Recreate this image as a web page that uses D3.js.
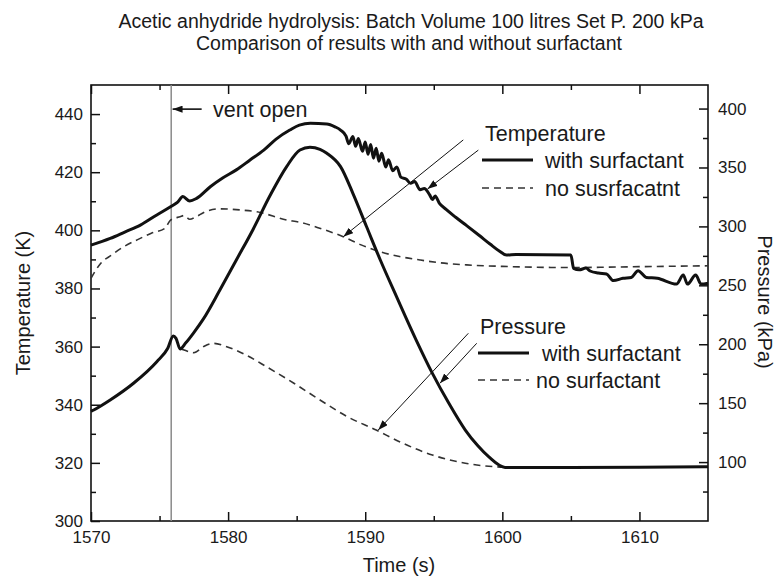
<!DOCTYPE html>
<html>
<head>
<meta charset="utf-8">
<script src="https://cdn.jsdelivr.net/npm/d3@7"></script>
<style>
  body { margin: 0; background: #fff; }
  text { font-family: "Liberation Sans", Arial, sans-serif; fill: #1a1a1a; }
</style>
</head>
<body>
<div id="viz"></div>
<script>
var width = 784,
    height = 586;

// [time (s), value] pairs
var tempWith = [
  [1570, 394.9], [1571.4, 397.2], [1572.5, 399.5], [1573.6, 401.8], [1574.8, 405.3],
  [1575.8, 408.1], [1576.3, 409.6], [1576.7, 411.6], [1577.2, 410.1], [1577.7, 411],
  [1578.7, 415], [1579.6, 418], [1580.6, 420.8], [1581.6, 424.2], [1582.6, 427.6],
  [1583.5, 431.4], [1584.5, 434.5], [1585.2, 436.2], [1586, 436.8],
  [1587.2, 436.6], [1587.8, 435.6], [1588.2, 434.5],
  [1588.6, 432.4], [1588.8, 429.8], [1589.1, 432.3], [1589.3, 428.9], [1589.5, 431.6],
  [1589.8, 427.2], [1590, 430.4], [1590.2, 426.2], [1590.4, 429.5], [1590.6, 424.8],
  [1590.8, 428.2], [1591, 423.8], [1591.2, 426.5], [1591.5, 421.8], [1591.7, 424.3],
  [1592, 420.5], [1592.3, 421.8], [1592.6, 418.3], [1593, 417.6], [1593.3, 416.2],
  [1593.6, 416.8], [1594, 414], [1594.3, 414.4], [1594.7, 412.2], [1594.9, 410.6],
  [1595.1, 411.8], [1595.4, 409.4], [1595.9, 407.2], [1596.6, 404.5], [1597.4, 401.6],
  [1598.3, 398.3], [1599.1, 395.3], [1599.8, 392.8], [1600.3, 391.5], [1601, 391.7],
  [1605, 391.5], [1605.2, 386.9], [1605.6, 386.4], [1606.1, 387], [1606.4, 386],
  [1607, 385.3], [1607.6, 385], [1608.1, 382.7], [1608.8, 383.5], [1609.4, 383.8],
  [1609.9, 386.1], [1610.5, 383.8], [1611.3, 383.5], [1612.7, 381.5], [1613.2, 384.6],
  [1613.5, 381.5], [1614.1, 384.6], [1614.5, 381.5], [1615, 381.8]
];

var tempNo = [
  [1570, 383.5], [1570.7, 388.6], [1571.5, 391.5], [1572.4, 394.4], [1573.4, 396.8],
  [1574.4, 399], [1575.4, 400.7], [1575.8, 403.5], [1576.5, 404.7], [1576.8, 405.1],
  [1577.2, 403.8], [1577.6, 404.5], [1578.3, 406.3], [1579.4, 407.4], [1580.9, 407],
  [1582.1, 406.4], [1584.3, 403.5], [1585.2, 402.8], [1586.5, 401], [1588.4, 397.8],
  [1589.7, 395], [1591.1, 392.6], [1592.5, 391], [1594, 389.8], [1595.5, 388.8],
  [1597.4, 388.1], [1600, 387.6], [1605, 387.2], [1610, 387.5], [1615, 387.8]
];

var pressWith = [
  [1570, 143], [1570.2, 144.2], [1571.4, 152.7], [1573.1, 166.9], [1574.8, 185.2],
  [1575.6, 196.6], [1576, 207], [1576.2, 205], [1576.5, 196], [1576.9, 201],
  [1577.46, 209.3], [1578.2, 221.5], [1579.4, 246], [1580.6, 271.5], [1581.8, 297],
  [1583.05, 326], [1584.27, 350.8], [1585.24, 364.8], [1585.97, 367.2], [1586.7, 365.4],
  [1587.2, 362], [1588.2, 350.7], [1589.1, 328.1], [1590.1, 299.7], [1591.1, 271.5],
  [1592.3, 240], [1593.7, 204], [1594.9, 175.3], [1596.1, 149.9],
  [1597.3, 127.2], [1598.2, 114], [1599, 104.6], [1600.2, 95.5], [1605, 95.5],
  [1610, 95.7], [1615, 96]
];

var pressNo = [
  [1576.6, 196], [1576.8, 195.1], [1577.2, 193.5], [1577.5, 192.8], [1578.2, 198],
  [1578.9, 200.8], [1579.9, 197.9], [1581.3, 190.9], [1582.8, 180.9], [1584.8, 166.9],
  [1586.7, 152.7], [1588.7, 138.5], [1590.8, 127.2], [1592.5, 117.3], [1594.9, 106],
  [1597.3, 99], [1599.5, 96], [1600.5, 95.5]
];

var xTicks = [1570, 1580, 1590, 1600, 1610],
    xMinor = [1575, 1585, 1595, 1605],
    tTicks = [300, 320, 340, 360, 380, 400, 420, 440],
    tMinor = [310, 330, 350, 370, 390, 410, 430],
    pTicks = [100, 150, 200, 250, 300, 350, 400],
    pMinor = [75, 125, 175, 225, 275, 325, 375];

var ventTime = 1575.85;

var plot = {left: 91, right: 708, top: 85, bottom: 521};

var x = d3.scaleLinear().domain([1570, 1615]).range([plot.left, plot.right]);
var yT = d3.scaleLinear().domain([300, 450]).range([plot.bottom, plot.top]);
var yP = d3.scaleLinear().domain([50, 420]).range([plot.bottom, plot.top]);

var svg = d3.select("#viz").append("svg")
    .attr("width", width)
    .attr("height", height);

var defs = svg.append("defs");
defs.append("marker")
    .attr("id", "head")
    .attr("markerUnits", "userSpaceOnUse")
    .attr("viewBox", "0 0 10 7")
    .attr("refX", 10).attr("refY", 3.5)
    .attr("markerWidth", 10).attr("markerHeight", 7)
    .attr("orient", "auto")
    .append("path")
    .attr("d", "M0,0 L10,3.5 L0,7 Z")
    .attr("fill", "#111");

// titles
svg.append("text").attr("x", 411).attr("y", 28)
    .attr("text-anchor", "middle").style("font-size", "19.5px")
    .text("Acetic anhydride hydrolysis: Batch Volume 100 litres Set P. 200 kPa");
svg.append("text").attr("x", 409).attr("y", 50)
    .attr("text-anchor", "middle").style("font-size", "19.5px")
    .text("Comparison of results with and without surfactant");

// axes (ticks pointing inward)
function styleAxis(g) {
  g.select(".domain").remove();
  g.selectAll("line").attr("stroke", "#111").attr("stroke-width", 1.5);
  g.selectAll("text").style("font-size", "17px").attr("fill", "#1a1a1a");
}

svg.append("g").attr("transform", "translate(0," + plot.bottom + ")")
    .call(d3.axisBottom(x).tickValues(xTicks).tickSize(-9).tickPadding(10).tickFormat(d3.format("d")))
    .call(styleAxis);
svg.append("g").attr("transform", "translate(0," + plot.bottom + ")")
    .call(d3.axisBottom(x).tickValues(xMinor).tickSize(-5).tickFormat(""))
    .call(styleAxis);
svg.append("g").attr("transform", "translate(0," + plot.top + ")")
    .call(d3.axisTop(x).tickValues(xTicks).tickSize(-9).tickFormat(""))
    .call(styleAxis);
svg.append("g").attr("transform", "translate(0," + plot.top + ")")
    .call(d3.axisTop(x).tickValues(xMinor).tickSize(-5).tickFormat(""))
    .call(styleAxis);

svg.append("g").attr("transform", "translate(" + plot.left + ",0)")
    .call(d3.axisLeft(yT).tickValues(tTicks).tickSize(-9).tickPadding(8))
    .call(styleAxis);
svg.append("g").attr("transform", "translate(" + plot.left + ",0)")
    .call(d3.axisLeft(yT).tickValues(tMinor).tickSize(-5).tickFormat(""))
    .call(styleAxis);

svg.append("g").attr("transform", "translate(" + plot.right + ",0)")
    .call(d3.axisRight(yP).tickValues(pTicks).tickSize(-9).tickPadding(10))
    .call(styleAxis);
svg.append("g").attr("transform", "translate(" + plot.right + ",0)")
    .call(d3.axisRight(yP).tickValues(pMinor).tickSize(-5).tickFormat(""))
    .call(styleAxis);

svg.append("rect")
    .attr("x", plot.left).attr("y", plot.top)
    .attr("width", plot.right - plot.left).attr("height", plot.bottom - plot.top)
    .attr("fill", "none").attr("stroke", "#111").attr("stroke-width", 1.6);

// axis titles
svg.append("text").attr("transform", "translate(30,303) rotate(-90)")
    .attr("text-anchor", "middle").style("font-size", "20px").text("Temperature (K)");
svg.append("text").attr("transform", "translate(758,302) rotate(90)")
    .attr("text-anchor", "middle").style("font-size", "20px").text("Pressure (kPa)");
svg.append("text").attr("x", 399).attr("y", 572)
    .attr("text-anchor", "middle").style("font-size", "20px").text("Time (s)");

// vent line
svg.append("line")
    .attr("x1", x(ventTime)).attr("x2", x(ventTime))
    .attr("y1", plot.top).attr("y2", plot.bottom)
    .attr("stroke", "#8a8a8a").attr("stroke-width", 1.5);

// curves
var lineT = d3.line().curve(d3.curveMonotoneX)
    .x(function(d) { return x(d[0]); }).y(function(d) { return yT(d[1]); });
var lineP = d3.line().curve(d3.curveMonotoneX)
    .x(function(d) { return x(d[0]); }).y(function(d) { return yP(d[1]); });

svg.append("path").datum(tempNo).attr("d", lineT)
    .attr("fill", "none").attr("stroke", "#333").attr("stroke-width", 1.6).attr("stroke-dasharray", "7,5");
svg.append("path").datum(pressNo).attr("d", lineP)
    .attr("fill", "none").attr("stroke", "#333").attr("stroke-width", 1.6).attr("stroke-dasharray", "7,5");
svg.append("path").datum(tempWith).attr("d", lineT)
    .attr("fill", "none").attr("stroke", "#111").attr("stroke-width", 3).attr("stroke-linejoin", "round");
svg.append("path").datum(pressWith).attr("d", lineP)
    .attr("fill", "none").attr("stroke", "#111").attr("stroke-width", 3).attr("stroke-linejoin", "round");

// annotation arrows: [t1, v1, t2, v2, scale]
var arrows = [
  [1578.07, 441.7, 1575.95, 441.7, yT],
  [1597.15, 431.1, 1588.4, 397.8, yT],
  [1598.25, 427.6, 1594.54, 414.2, yT],
  [1597.52, 209.3, 1590.95, 127.2, yP],
  [1598.13, 200.8, 1595.45, 166.9, yP]
];
svg.selectAll(".arrow").data(arrows).enter().append("line")
    .attr("class", "arrow")
    .attr("x1", function(d) { return x(d[0]); })
    .attr("y1", function(d) { return d[4](d[1]); })
    .attr("x2", function(d) { return x(d[2]); })
    .attr("y2", function(d) { return d[4](d[3]); })
    .attr("stroke", "#111").attr("stroke-width", function(d, i) { return i === 0 ? 1.6 : 1; })
    .attr("marker-end", "url(#head)");

svg.append("text").attr("x", 213).attr("y", 109).attr("dy", "0.35em")
    .style("font-size", "21.5px").text("vent open");

// legends
function legend(title, tx, ty, lx, y1, y2, textX1, textX2, noText) {
  svg.append("text").attr("x", tx).attr("y", ty).attr("dy", "0.35em")
      .style("font-size", "21.5px").text(title);
  svg.append("line").attr("x1", lx).attr("x2", lx + 51).attr("y1", y1).attr("y2", y1)
      .attr("stroke", "#111").attr("stroke-width", 3);
  svg.append("text").attr("x", textX1).attr("y", y1).attr("dy", "0.35em")
      .style("font-size", "21.5px").text("with surfactant");
  svg.append("line").attr("x1", lx).attr("x2", lx + 51).attr("y1", y2).attr("y2", y2)
      .attr("stroke", "#333").attr("stroke-width", 1.6).attr("stroke-dasharray", "7,5");
  svg.append("text").attr("x", textX2).attr("y", y2).attr("dy", "0.35em")
      .style("font-size", "21.5px").text(noText);
}
legend("Temperature", 485, 133, 482, 160, 188, 545, 545, "no susrfacatnt");
legend("Pressure", 480, 326, 478, 353, 380, 542, 536, "no surfactant");
</script>
</body>
</html>
